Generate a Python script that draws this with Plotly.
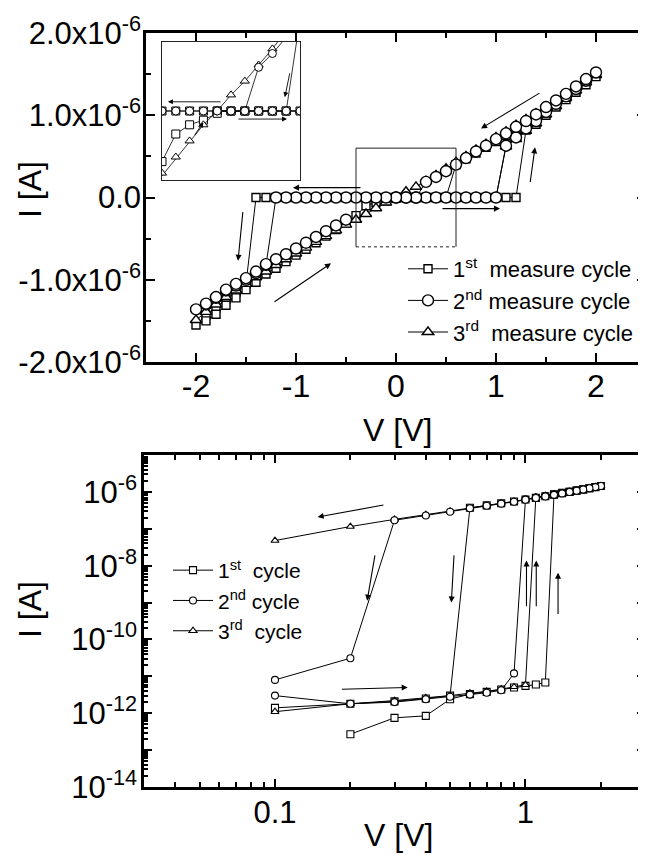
import numpy as np
import plotly.graph_objects as go

# ---------------- top panel (linear I-V), current in micro-ampere ----------------
sq_v = [0.0, 0.1, 0.2, 0.3, 0.4, 0.5, 0.6, 0.7, 0.8, 0.9, 1.0, 1.1, 1.2,
        1.3, 1.4, 1.5, 1.6, 1.7, 1.8, 1.9, 2.0,
        1.9, 1.8, 1.7, 1.6, 1.5, 1.4, 1.3, 1.2, 1.1, 1.0, 0.9, 0.8, 0.7, 0.6,
        0.5, 0.4, 0.3, 0.2, 0.1, 0.0, -0.1, -0.2, -0.3, -0.4, -0.5, -0.6, -0.7, -0.8, -0.9, -1.0, -1.1, -1.2, -1.3, -1.4,
        -1.5, -1.6, -1.7, -1.8, -1.9, -2.0,
        -1.9, -1.8, -1.7, -1.6, -1.5, -1.4, -1.3, -1.2, -1.1, -1.0, -0.9, -0.8, -0.7, -0.6, -0.5, -0.4, -0.3, -0.2, -0.1, 0.0]
sq_i = [0, 0, 0, 0, 0, 0, 0, 0, 0, 0, 0, 0, 0,
        0.82, 0.89, 1.00, 1.10, 1.19, 1.28, 1.37, 1.47,
        1.41, 1.31, 1.22, 1.14, 1.06, 0.98, 0.90, 0.83, 0.75, 0.68, 0.61, 0.54, 0.47, 0.40,
        0, 0, 0, 0, 0, 0, 0, 0, 0, 0, 0, 0, 0, 0, 0, 0, 0, 0, 0, 0,
        -1.05, -1.15, -1.24, -1.34, -1.43, -1.55,
        -1.50, -1.42, -1.31, -1.22, -1.12, -1.03, -0.93, -0.86, -0.78, -0.70, -0.63, -0.55, -0.47, -0.39, -0.31, -0.22, -0.10, -0.06, -0.04, -0.01]

ci_v = [0.0, 0.1, 0.2, 0.3, 0.4, 0.5, 0.6, 0.7, 0.8, 0.9, 1.0,
        1.1, 1.2, 1.3, 1.4, 1.5, 1.6, 1.7, 1.8, 1.9, 2.0,
        1.9, 1.8, 1.7, 1.6, 1.5, 1.4, 1.3, 1.2, 1.1, 1.0, 0.9, 0.8, 0.7, 0.6, 0.5, 0.4, 0.3,
        0.2, 0.1, 0.0, -0.1, -0.2, -0.3, -0.4, -0.5, -0.6, -0.7, -0.8, -0.9, -1.0, -1.1, -1.2,
        -1.3, -1.4, -1.5, -1.6, -1.7, -1.8, -1.9, -2.0,
        -1.9, -1.8, -1.7, -1.6, -1.5, -1.4, -1.3, -1.2, -1.1, -1.0, -0.9, -0.8, -0.7, -0.6, -0.5]
ci_i = [0, 0, 0, 0, 0, 0, 0, 0, 0, 0, 0,
        0.63, 0.73, 0.84, 0.93, 1.04, 1.14, 1.23, 1.32, 1.42, 1.52,
        1.44, 1.35, 1.26, 1.18, 1.10, 1.01, 0.93, 0.86, 0.78, 0.71, 0.63, 0.56, 0.48, 0.40, 0.32, 0.25, 0.19,
        0, 0, 0, 0, 0, 0, 0, 0, 0, 0, 0, 0, 0, 0, 0,
        -0.82, -0.92, -1.00, -1.07, -1.13, -1.22, -1.30, -1.36,
        -1.29, -1.21, -1.12, -1.05, -0.98, -0.90, -0.81, -0.75, -0.69, -0.62, -0.55, -0.48, -0.41, -0.34, -0.27]

tr_v = [0.0, 0.1, 0.2, 0.3, 0.4, 0.5, 0.6, 0.7, 0.8, 0.9, 1.0,
        1.1, 1.2, 1.3, 1.4, 1.5, 1.6, 1.7, 1.8, 1.9, 2.0,
        1.9, 1.8, 1.7, 1.6, 1.5, 1.4, 1.3, 1.2, 1.1, 1.0, 0.9, 0.8, 0.7, 0.6, 0.5, 0.4, 0.3, 0.2, 0.1, 0.0,
        -0.1, -0.2, -0.3, -0.4, -0.5, -0.6, -0.7, -0.8, -0.9, -1.0, -1.1, -1.2, -1.3, -1.4, -1.5, -1.6, -1.7, -1.8, -1.9, -2.0]
tr_i = [0, 0, 0, 0, 0, 0, 0, 0, 0, 0, 0,
        0.62, 0.71, 0.81, 0.90, 1.01, 1.11, 1.21, 1.30, 1.40, 1.49,
        1.43, 1.34, 1.26, 1.17, 1.09, 1.02, 0.95, 0.88, 0.80, 0.73, 0.65, 0.58, 0.50, 0.43, 0.35, 0.27, 0.20, 0.13, 0.07, 0.0,
        -0.06, -0.13, -0.20, -0.27, -0.33, -0.40, -0.47, -0.54, -0.61, -0.68, -0.75, -0.82, -0.90, -0.97, -1.05, -1.13, -1.21, -1.30, -1.39, -1.49]

# ---------------- bottom panel (log |I| vs V) ----------------
lsq_v = [0.2, 0.3, 0.4, 0.5, 0.6, 0.7, 0.8, 0.9, 1.0, 1.1, 1.2,
         1.3, 1.4, 1.5, 1.6, 1.7, 1.8, 1.9, 2.0,
         1.9, 1.8, 1.7, 1.6, 1.5, 1.4, 1.3, 1.2, 1.1, 1.0, 0.9, 0.8, 0.7, 0.6,
         0.5, 0.4, 0.3, 0.2, 0.1]
lsq_i = [2.7e-13, 7.5e-13, 8.5e-13, 2.4e-12, 3.3e-12, 3.8e-12, 4.4e-12, 5.0e-12, 5.5e-12, 6.0e-12, 6.8e-12,
         8.6e-7, 9.4e-7, 1.0e-6, 1.08e-6, 1.16e-6, 1.25e-6, 1.35e-6, 1.45e-6,
         1.36e-6, 1.26e-6, 1.17e-6, 1.09e-6, 1.0e-6, 9.2e-7, 8.4e-7, 7.6e-7, 6.9e-7, 6.2e-7, 5.5e-7, 4.9e-7, 4.3e-7, 3.7e-7,
         3.0e-12, 2.5e-12, 2.1e-12, 1.8e-12, 1.4e-12]

lci_v = [0.1, 0.2, 0.3, 0.4, 0.5, 0.6, 0.7, 0.8, 0.9,
         1.0, 1.1, 1.2, 1.3, 1.4, 1.5, 1.6, 1.7, 1.8, 1.9, 2.0,
         1.9, 1.8, 1.7, 1.6, 1.5, 1.4, 1.3, 1.2, 1.1, 1.0, 0.9, 0.8, 0.7, 0.6, 0.5, 0.4, 0.3,
         0.2, 0.1]
lci_i = [3.0e-12, 1.8e-12, 2.0e-12, 2.4e-12, 2.8e-12, 3.2e-12, 3.6e-12, 4.2e-12, 1.2e-11,
         6.3e-7, 7.0e-7, 7.7e-7, 8.5e-7, 9.3e-7, 1.0e-6, 1.08e-6, 1.17e-6, 1.26e-6, 1.36e-6, 1.45e-6,
         1.35e-6, 1.25e-6, 1.16e-6, 1.07e-6, 9.9e-7, 9.1e-7, 8.3e-7, 7.5e-7, 6.8e-7, 6.1e-7, 5.4e-7, 4.8e-7, 4.2e-7, 3.6e-7, 2.9e-7, 2.3e-7, 1.7e-7,
         3.1e-11, 8.0e-12]

ltr_v = [0.1, 0.2, 0.3, 0.4, 0.5, 0.6, 0.7, 0.8, 0.9, 1.0,
         1.1, 1.2, 1.3, 1.4, 1.5, 1.6, 1.7, 1.8, 1.9, 2.0,
         1.9, 1.8, 1.7, 1.6, 1.5, 1.4, 1.3, 1.2, 1.1, 1.0, 0.9, 0.8, 0.7, 0.6, 0.5, 0.4, 0.3, 0.2, 0.1]
ltr_i = [1.1e-12, 1.8e-12, 2.2e-12, 2.6e-12, 3.0e-12, 3.5e-12, 3.9e-12, 4.5e-12, 5.2e-12, 5.9e-12,
         7.2e-7, 7.9e-7, 8.6e-7, 9.4e-7, 1.02e-6, 1.1e-6, 1.18e-6, 1.27e-6, 1.37e-6, 1.46e-6,
         1.36e-6, 1.26e-6, 1.17e-6, 1.08e-6, 1.0e-6, 9.2e-7, 8.4e-7, 7.6e-7, 6.9e-7, 6.2e-7, 5.5e-7, 4.9e-7, 4.3e-7, 3.7e-7, 3.0e-7, 2.4e-7, 1.8e-7, 1.15e-7, 4.8e-8]

top_names = ["1<sup>st</sup>  measure cycle", "2<sup>nd</sup> measure cycle", "3<sup>rd</sup>  measure cycle"]
bot_names = ["1<sup>st</sup>  cycle", "2<sup>nd</sup> cycle", "3<sup>rd</sup>  cycle"]

lin_xticks = [-2, -1, 0, 1, 2]
lin_xtext = ["-2", "-1", "0", "1", "2"]
lin_yticks = [-2e-6, -1e-6, 0, 1e-6, 2e-6]
lin_ytext = ["-2.0x10<sup>-6</sup>", "-1.0x10<sup>-6</sup>", "0.0", "1.0x10<sup>-6</sup>", "2.0x10<sup>-6</sup>"]
log_xticks = [0.1, 1]
log_xtext = ["0.1", "1"]
log_yticks = [1e-14, 1e-13, 1e-12, 1e-11, 1e-10, 1e-9, 1e-8, 1e-7, 1e-6, 1e-5]
log_ytext = ["10<sup>-14</sup>", "", "10<sup>-12</sup>", "", "10<sup>-10</sup>", "", "10<sup>-8</sup>", "", "10<sup>-6</sup>", ""]

FONT = "Liberation Sans, Arial, sans-serif"
OFF = 8                      # page body margin of the browser
W, H = 646 - OFF, 855 - OFF  # figure size that fits the window


def px_x(p):
    return (p - OFF) / W


def px_y(p):
    return 1 - (p - OFF) / H


fig = go.Figure()

symbols = ["square", "circle", "triangle-up"]
top_sizes = [8, 11, 10]
series_top = [(sq_v, sq_i), (ci_v, ci_i), (tr_v, tr_i)]
order = [0, 2, 1]
for k in order:
    v, i = series_top[k]
    fig.add_trace(go.Scatter(
        x=v, y=np.array(i) * 1e-6, mode="lines+markers", name=top_names[k],
        line=dict(color="black", width=1),
        marker=dict(symbol=symbols[k], size=top_sizes[k], color="white",
                    line=dict(color="black", width=1.4)),
        xaxis="x", yaxis="y", legend="legend", legendrank=k + 1))

# inset (magnified dotted box)
for k in order:
    v, i = series_top[k]
    fig.add_trace(go.Scatter(
        x=v, y=np.array(i) * 1e-6, mode="lines+markers", showlegend=False,
        line=dict(color="black", width=0.8),
        marker=dict(symbol=symbols[k], size=8, color="white",
                    line=dict(color="black", width=1)),
        xaxis="x3", yaxis="y3"))

series_bot = [(lsq_v, lsq_i), (lci_v, lci_i), (ltr_v, ltr_i)]
for k in order:
    v, i = series_bot[k]
    fig.add_trace(go.Scatter(
        x=v, y=i, mode="lines+markers", name=bot_names[k],
        line=dict(color="black", width=1),
        marker=dict(symbol=symbols[k], size=7, color="white",
                    line=dict(color="black", width=1.1)),
        xaxis="x2", yaxis="y2", legend="legend2", legendrank=k + 1))


def axis_common(size):
    return dict(showline=True, linewidth=2.5, linecolor="black", mirror="ticks",
                ticks="inside", tickwidth=2, tickcolor="black", showgrid=False,
                zeroline=False, automargin=False,
                tickfont=dict(family=FONT, size=size, color="black"))


minor_y_log = [m * 10.0 ** e for e in range(-14, -5) for m in range(2, 10)]
minor_x_log = [0.04, 0.05, 0.06, 0.07, 0.08, 0.09, 0.2, 0.3, 0.4, 0.5, 0.6, 0.7, 0.8, 0.9, 2, 3]

fig.update_layout(
    width=W, height=H, margin=dict(l=0, r=0, t=0, b=0, pad=0, autoexpand=False),
    paper_bgcolor="white", plot_bgcolor="white",
    font=dict(family=FONT, color="black"),
    xaxis=dict(domain=[px_x(146), 1.0], range=[-2.5, 2.5], anchor="y",
               tickmode="array", tickvals=lin_xticks, ticktext=lin_xtext, ticklen=9,
               ticklabelstandoff=-6,
               minor=dict(tickmode="array", tickvals=[-1.5, -0.5, 0.5, 1.5], ticks="inside", ticklen=5, tickwidth=2),
               **axis_common(32)),
    yaxis=dict(domain=[px_y(362), px_y(33)], range=[-2e-6, 2e-6], anchor="x",
               tickmode="array", tickvals=lin_yticks, ticktext=lin_ytext, ticklen=9,
               ticklabelstandoff=-4,
               minor=dict(tickmode="array", tickvals=[-1.5e-6, -0.5e-6, 0.5e-6, 1.5e-6], ticks="inside", ticklen=5, tickwidth=2),
               **axis_common(31)),
    xaxis2=dict(domain=[px_x(144), px_x(645)], type="log", range=[np.log10(0.03), np.log10(3)], anchor="y2",
                tickmode="array", tickvals=log_xticks, ticktext=log_xtext, ticklen=8,
                ticklabelstandoff=-4,
                minor=dict(tickmode="array", tickvals=minor_x_log, ticks="inside", ticklen=5, tickwidth=2),
                **axis_common(31)),
    yaxis2=dict(domain=[px_y(787), px_y(455)], type="log", range=[-14, -5], anchor="x2",
                tickmode="array", tickvals=log_yticks, ticktext=log_ytext, ticklen=8,
                ticklabelstandoff=-2,
                minor=dict(tickmode="array", tickvals=minor_y_log, ticks="inside", ticklen=4, tickwidth=1.5),
                **axis_common(31)),
    xaxis3=dict(domain=[px_x(162), px_x(300)], range=[-0.4, 0.6], anchor="y3",
                showline=True, mirror=True, linewidth=1, linecolor="#222", automargin=False,
                showticklabels=False, ticks="", showgrid=False, zeroline=False),
    yaxis3=dict(domain=[px_y(180), px_y(42)], range=[-0.3e-6, 0.3e-6], anchor="x3",
                showline=True, mirror=True, linewidth=1, linecolor="#222", automargin=False,
                showticklabels=False, ticks="", showgrid=False, zeroline=False),
    legend=dict(x=px_x(403), y=px_y(248), xanchor="left", yanchor="top",
                bgcolor="rgba(0,0,0,0)", font=dict(family=FONT, size=22, color="black"),
                itemwidth=40, tracegroupgap=0),
    legend2=dict(x=px_x(168), y=px_y(550), xanchor="left", yanchor="top",
                 bgcolor="rgba(0,0,0,0)", font=dict(family=FONT, size=21, color="black"),
                 itemwidth=40, tracegroupgap=0),
)

annotations = []


def arrow(head, tail, xr, yr, width=1.1):
    annotations.append(dict(x=head[0], y=head[1], ax=tail[0], ay=tail[1],
                            xref=xr, yref=yr, axref=xr, ayref=yr, text="",
                            showarrow=True, arrowhead=2, arrowsize=1.1,
                            arrowwidth=width, arrowcolor="black"))


# top panel arrows
arrow((0.85, 0.84e-6), (1.45, 1.28e-6), "x", "y")
arrow((1.39, 0.61e-6), (1.34, 0.17e-6), "x", "y")
arrow((1.04, -0.135e-6), (0.45, -0.135e-6), "x", "y")
arrow((-1.03, 0.12e-6), (-0.34, 0.12e-6), "x", "y")
arrow((-1.58, -0.77e-6), (-1.53, -0.16e-6), "x", "y")
arrow((-0.65, -0.80e-6), (-1.23, -1.28e-6), "x", "y")
# inset arrows
arrow((-0.357, 0.04e-6), (0.035, 0.04e-6), "x3", "y3", 0.9)
arrow((0.506, -0.035e-6), (0.143, -0.035e-6), "x3", "y3", 0.9)
arrow((-0.10, -0.05e-6), (-0.17, -0.11e-6), "x3", "y3", 0.9)
arrow((0.49, 0.06e-6), (0.528, 0.17e-6), "x3", "y3", 0.9)
# bottom panel arrows (log10 coordinates)
arrow((-0.83, -6.68), (-0.561, -6.35), "x2", "y2")
arrow((-0.632, -8.95), (-0.60, -7.68), "x2", "y2")
arrow((-0.296, -9.0), (-0.285, -7.68), "x2", "y2")
arrow((0.004, -7.86), (0.004, -9.14), "x2", "y2")
arrow((0.043, -7.86), (0.043, -9.14), "x2", "y2")
arrow((0.13, -8.19), (0.13, -9.35), "x2", "y2")
arrow((-0.47, -11.3), (-0.739, -11.35), "x2", "y2")

title_font = dict(family=FONT, size=32, color="black")
annotations += [
    dict(text="V [V]", x=px_x(397), y=px_y(430), xref="paper", yref="paper", showarrow=False,
         font=title_font, xanchor="center", yanchor="middle"),
    dict(text="V [V]", x=px_x(398), y=px_y(835), xref="paper", yref="paper", showarrow=False,
         font=title_font, xanchor="center", yanchor="middle"),
    dict(text="I [A]", x=px_x(30), y=px_y(190), xref="paper", yref="paper", showarrow=False,
         font=title_font, textangle=-90, xanchor="center", yanchor="middle"),
    dict(text="I [A]", x=px_x(30), y=px_y(610), xref="paper", yref="paper", showarrow=False,
         font=title_font, textangle=-90, xanchor="center", yanchor="middle"),
]
fig.update_layout(annotations=annotations)

# dotted zoom box in the main panel
box = [(-0.4, 0.6e-6, 0.6, 0.6e-6, "solid"), (0.6, 0.6e-6, 0.6, -0.6e-6, "solid"),
       (-0.4, 0.6e-6, -0.4, -0.6e-6, "solid"), (-0.4, -0.6e-6, 0.6, -0.6e-6, "dot")]
for x0, y0, x1, y1, d in box:
    fig.add_shape(type="line", xref="x", yref="y", x0=x0, y0=y0, x1=x1, y1=y1,
                  line=dict(color="#222", width=1, dash=d))

fig.write_html("out.html")
